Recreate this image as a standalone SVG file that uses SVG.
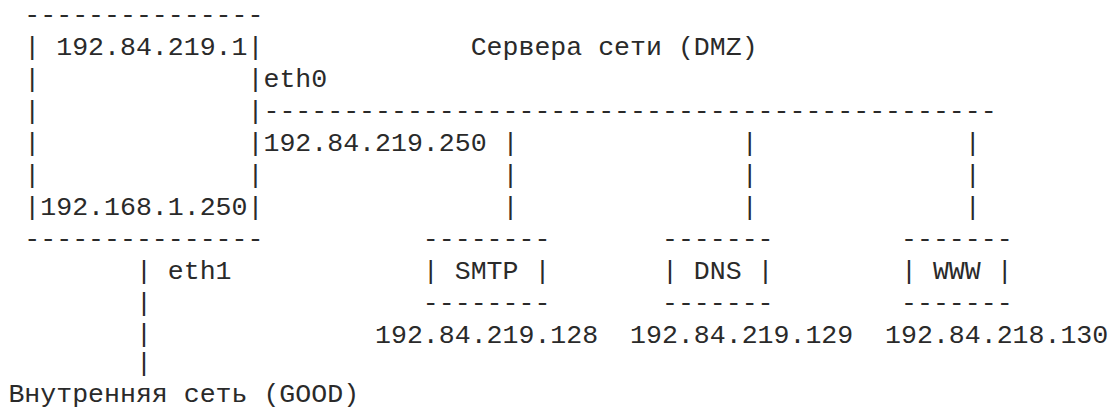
<svg xmlns="http://www.w3.org/2000/svg" width="1119" height="410" viewBox="0 0 1119 410">
<style>
text { font-family: "Liberation Mono", "Courier New", monospace; font-size: 26.57px; fill: #2a2a2a; white-space: pre; }
</style>
<rect width="1119" height="410" fill="#ffffff"/>
<g id="router">
<text x="24.34" y="23">---------------</text>
<text x="24.34" y="55">| 192.84.219.1|</text>
<text x="24.34" y="87">|</text><text x="247.5" y="87">|</text>
<text x="24.34" y="119">|</text><text x="247.5" y="119">|</text>
<text x="24.34" y="151">|</text><text x="247.5" y="151">|</text>
<text x="24.34" y="183">|</text><text x="247.5" y="183">|</text>
<text x="24.34" y="215">|192.168.1.250|</text>
<text x="24.34" y="247">---------------</text>
</g>
<g id="labels">
<text x="470.66" y="55">Сервера сети (DMZ)</text>
<text x="263.44" y="87">eth0</text>
<text x="263.44" y="151">192.84.219.250</text>
<text x="167.8" y="279">eth1</text>
<text x="8.4" y="402">Внутренняя сеть (GOOD)</text>
</g>
<g id="connectors">
<text x="263.44" y="119">----------------------------------------------</text>
<text x="502.54" y="151">|</text><text x="502.54" y="183">|</text><text x="502.54" y="215">|</text>
<text x="741.64" y="151">|</text><text x="741.64" y="183">|</text><text x="741.64" y="215">|</text>
<text x="964.8" y="151">|</text><text x="964.8" y="183">|</text><text x="964.8" y="215">|</text>
<text x="135.92" y="279">|</text><text x="135.92" y="311">|</text><text x="135.92" y="342">|</text><text x="135.92" y="371">|</text>
</g>
<g id="smtp">
<text x="422.84" y="247">--------</text>
<text x="422.84" y="279">| SMTP |</text>
<text x="422.84" y="311">--------</text>
<text x="375.02" y="343">192.84.219.128</text>
</g>
<g id="dns">
<text x="661.94" y="247">-------</text>
<text x="661.94" y="279">| DNS |</text>
<text x="661.94" y="311">-------</text>
<text x="630.06" y="343">192.84.219.129</text>
</g>
<g id="www">
<text x="901.04" y="247">-------</text>
<text x="901.04" y="279">| WWW |</text>
<text x="901.04" y="311">-------</text>
<text x="885.1" y="343">192.84.218.130</text>
</g>
</svg>
